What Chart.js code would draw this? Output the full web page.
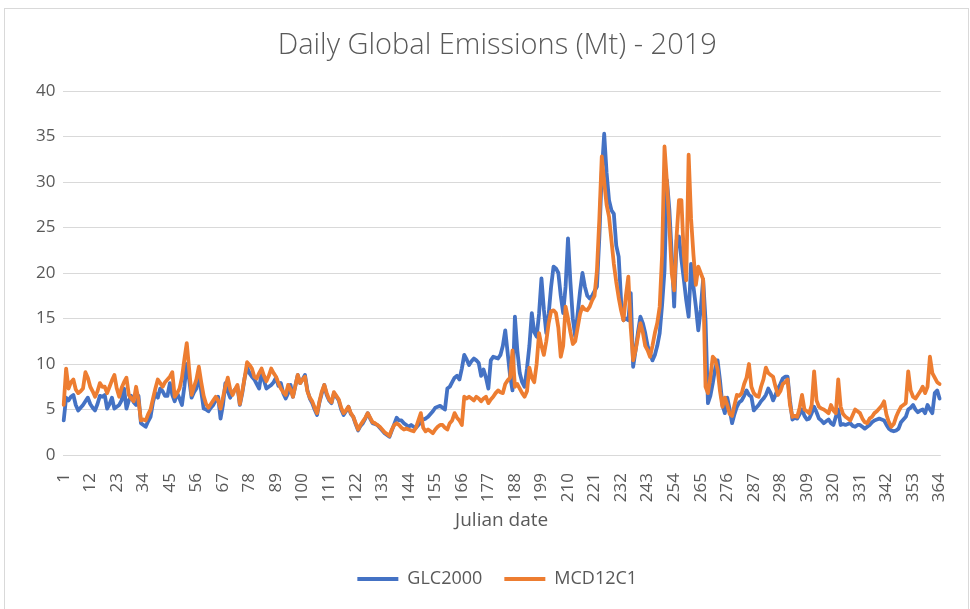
<!DOCTYPE html>
<html>
<head>
<meta charset="utf-8">
<title>Daily Global Emissions (Mt) - 2019</title>
<script src="https://cdn.jsdelivr.net/npm/chart.js@4.4.1/dist/chart.umd.min.js"></script>
<style>
  html, body { margin: 0; padding: 0; background: #fff; }
  #wrap { position: relative; width: 970px; height: 609px; overflow: hidden; }
  #frame { position: absolute; left: 4px; top: 8px; width: 963px; height: 620px;
           border: 1px solid #d9d9d9; pointer-events: none; }
</style>
</head>
<body>
<div id="wrap">
  <canvas id="chart" width="970" height="609"></canvas>
  <div id="frame"></div>
</div>
<script>
// julian days 1..364
const days = Array.from({ length: 364 }, (_, i) => i + 1);

// GLC2000 daily emissions (Mt)
const glc2000 = [
  3.8, 6.3, 6.0, 6.4, 6.6, 5.5, 4.9, 5.2, 5.5, 5.9,
  6.3, 5.6, 5.2, 4.9, 5.6, 6.5, 6.4, 6.6, 5.1, 5.6,
  6.3, 5.1, 5.3, 5.5, 6.0, 7.3, 5.1, 6.0, 6.5, 5.8,
  5.5, 6.5, 3.5, 3.3, 3.1, 3.7, 4.2, 5.8, 6.8, 6.3,
  7.3, 7.0, 6.5, 6.5, 7.9, 6.6, 5.9, 6.8, 6.2, 5.5,
  7.5, 10.0, 8.3, 6.3, 6.9, 7.3, 8.9, 7.0, 5.1, 5.0,
  4.8, 5.2, 5.5, 6.0, 6.4, 4.0, 5.5, 7.9, 7.0, 6.3,
  6.9, 7.2, 7.5, 5.5, 6.8, 8.5, 9.6, 9.0, 8.6, 8.3,
  7.8, 7.3, 9.1, 8.2, 7.3, 7.5, 7.7, 8.0, 8.5, 7.6,
  7.9, 6.8, 6.2, 6.8, 7.7, 6.4, 7.6, 8.8, 7.9, 8.3,
  8.8, 7.1, 6.2, 5.7, 5.0, 4.4, 5.8, 6.8, 7.7, 6.6,
  6.0, 5.7, 6.8, 6.4, 6.0, 5.0, 4.4, 4.8, 5.3, 4.5,
  4.2, 3.4, 2.7, 3.2, 3.5, 4.0, 4.6, 4.0, 3.5, 3.4,
  3.3, 3.0, 2.7, 2.4, 2.2, 2.0, 2.7, 3.4, 4.1, 3.8,
  3.8, 3.5, 3.3, 3.1, 3.3, 3.1, 3.0, 3.3, 3.6, 3.9,
  4.0, 4.2, 4.5, 4.8, 5.2, 5.3, 5.4, 5.2, 5.0, 7.3,
  7.5, 8.0, 8.5, 8.7, 8.3, 9.5, 11.0, 10.5, 9.9, 10.3,
  10.6, 10.4, 10.1, 8.7, 9.4, 8.5, 7.3, 10.4, 10.8, 10.7,
  10.6, 11.0, 12.0, 13.7, 11.2, 8.7, 7.1, 15.2, 11.5, 9.0,
  8.0, 7.5, 9.5, 12.0, 15.6, 13.5, 13.0, 15.5, 19.4, 16.0,
  13.4, 15.5, 18.5, 20.7, 20.5, 20.0, 17.5, 15.6, 18.5, 23.8,
  19.0, 15.0, 13.0, 15.5, 18.0, 20.0, 18.5, 17.5, 17.2, 17.5,
  18.0, 18.5, 24.0, 31.0, 35.3, 31.0, 28.0, 26.9, 26.5, 23.0,
  21.8, 17.0, 14.8, 15.0, 14.8, 17.8, 9.7, 11.5, 13.5, 15.2,
  14.5, 13.4, 12.0, 11.2, 10.4, 11.0, 12.0, 13.4, 16.5, 20.3,
  30.2, 27.0, 22.0, 16.3, 23.6, 24.0, 21.5, 19.3, 17.0, 15.2,
  21.0, 18.5, 16.3, 13.7, 16.0, 19.3, 14.8, 5.7, 6.5, 7.9,
  9.5, 10.4, 8.2, 5.5, 4.6, 6.3, 5.0, 3.5, 4.5, 5.3,
  5.8, 6.0, 6.5, 7.1, 6.6, 6.4, 4.9, 5.2, 5.5, 5.9,
  6.2, 6.6, 7.3, 6.8, 6.0, 6.6, 7.3, 7.8, 8.4, 8.6,
  8.6, 6.0, 3.9, 4.1, 4.0, 4.5, 5.0, 4.3, 3.9, 4.0,
  4.6, 5.3, 4.7, 4.0, 3.8, 3.5, 3.7, 3.9, 3.5, 3.3,
  4.2, 5.0, 3.3, 3.4, 3.3, 3.4, 3.5, 3.2, 3.1, 3.3,
  3.3, 3.1, 2.9, 3.1, 3.3, 3.6, 3.8, 3.9, 4.0, 3.9,
  3.8, 3.3, 2.9, 2.7, 2.6, 2.7, 2.9, 3.6, 3.9, 4.2,
  5.0, 5.2, 5.5, 5.0, 4.7, 4.9, 5.0, 4.6, 5.5, 5.0,
  4.6, 6.8, 7.1, 6.2
];

// MCD12C1 daily emissions (Mt)
const mcd12c1 = [
  5.5, 9.5, 7.3, 8.0, 8.3, 7.2, 6.8, 7.0, 7.3, 9.1,
  8.5, 7.5, 7.0, 6.4, 7.0, 7.9, 7.5, 7.5, 6.8, 7.5,
  8.2, 8.8, 7.3, 6.4, 7.4, 8.0, 8.5, 6.6, 6.2, 5.9,
  7.5, 6.0, 3.8, 3.9, 3.8, 4.5, 5.0, 6.2, 7.3, 8.3,
  7.9, 7.5, 8.0, 8.3, 8.6, 9.1, 6.4, 6.8, 7.3, 8.5,
  10.5, 12.3, 9.4, 6.6, 7.5, 8.3, 9.7, 8.0, 6.5, 5.6,
  5.2, 5.6, 6.0, 6.4, 6.0, 5.1, 6.3, 7.5, 8.5, 7.2,
  6.6, 7.2, 7.7, 5.6, 7.0, 8.5, 10.2, 9.9, 9.5, 8.6,
  8.4, 9.0, 9.5, 8.7, 8.1, 8.7, 9.5, 9.0, 8.6, 7.9,
  7.3, 6.9, 6.6, 7.7, 7.2, 6.4, 7.6, 8.8, 7.9, 8.3,
  8.6, 7.0, 6.3, 5.9, 5.2, 4.6, 5.9, 7.0, 7.7, 6.8,
  6.1, 5.8, 6.9, 6.5, 6.1, 5.2, 4.6, 4.9, 5.3, 4.6,
  4.2, 3.5, 2.8, 3.3, 3.7, 4.1, 4.6, 4.1, 3.6, 3.5,
  3.3, 3.1, 2.8, 2.5, 2.3, 2.1, 2.8, 3.3, 3.5, 3.3,
  3.0, 2.8, 2.9, 2.8, 2.7, 2.6, 3.0, 3.8, 4.6, 3.0,
  2.6, 2.8, 2.6, 2.4, 2.8, 3.1, 3.3, 3.3, 3.0, 2.8,
  3.5, 3.8, 4.6, 4.1, 3.8, 3.3, 6.4, 6.2, 6.4, 6.2,
  6.0, 6.4, 6.2, 5.9, 6.2, 6.4, 5.7, 6.1, 6.4, 6.8,
  7.1, 6.9, 6.8, 7.8, 8.2, 8.5, 11.5, 7.5, 7.8, 7.3,
  6.8, 6.4, 7.0, 9.6, 8.5, 8.0, 10.0, 13.4, 12.0, 11.0,
  12.5, 14.5, 15.8, 15.9, 15.6, 14.0, 10.8, 12.0, 16.3, 15.0,
  13.5, 12.2, 12.5, 14.0, 15.5, 16.3, 16.0, 15.9, 16.3, 17.0,
  17.5, 20.3, 26.0, 32.8, 30.0, 27.5, 26.2, 23.6, 21.0, 19.0,
  17.3, 15.9, 14.8, 17.5, 19.6, 14.0, 10.4, 11.5, 13.0, 14.5,
  13.5, 12.0, 11.5, 10.8, 12.0, 13.4, 14.5, 16.3, 22.0, 33.9,
  30.0, 25.2, 20.0, 18.1, 24.0, 28.0, 28.0, 22.0, 19.2, 33.0,
  26.0, 22.0, 18.7, 20.7, 20.0, 19.3, 7.5, 6.8, 8.5, 10.8,
  10.5, 9.4, 7.0, 5.3, 6.3, 5.5, 4.5, 4.3, 5.5, 6.6,
  6.5, 6.8, 7.8, 8.5, 10.0, 7.5, 6.8, 6.5, 6.4, 7.5,
  8.3, 9.6, 9.0, 8.8, 8.6, 7.5, 6.6, 7.0, 7.8, 8.0,
  8.3, 5.5, 4.2, 4.3, 4.2, 5.2, 6.6, 5.0, 4.8, 4.6,
  5.5, 9.2, 6.0, 5.3, 5.1, 5.0, 4.8, 4.6, 5.5, 4.9,
  4.6, 8.3, 5.3, 4.5, 4.2, 4.0, 3.8, 4.4, 5.0, 4.8,
  4.6, 4.0, 3.6, 3.5, 4.0, 4.2, 4.6, 4.8, 5.1, 5.4,
  5.9, 4.4, 3.6, 3.1, 3.4, 4.2, 4.8, 5.3, 5.5, 5.7,
  9.2, 7.1, 6.4, 6.2, 6.6, 7.0, 7.5, 6.8, 7.5, 10.8,
  9.0, 8.5, 8.0, 7.8
];

// y axis ticks
const yTicks = [0, 5, 10, 15, 20, 25, 30, 35, 40];

const textColor = '#595959';
const gridColor = '#d9d9d9';
const fontFamily = "'Open Sans', 'Liberation Sans', sans-serif";

const ctx = document.getElementById('chart').getContext('2d');

new Chart(ctx, {
  type: 'line',
  data: {
    labels: days,
    datasets: [
      {
        label: 'GLC2000',
        data: glc2000,
        borderColor: '#4472c4',
        backgroundColor: '#4472c4',
        borderWidth: 3.8,
        order: 1, // drawn underneath
      },
      {
        label: 'MCD12C1',
        data: mcd12c1,
        borderColor: '#ed7d31',
        backgroundColor: '#ed7d31',
        borderWidth: 3.8,
        order: 0, // drawn on top, like the original
      },
    ],
  },
  options: {
    responsive: false,
    animation: false,
    devicePixelRatio: 1,
    layout: { padding: { left: 36, right: 11.5, top: 0, bottom: 11 } },
    elements: {
      point: { radius: 0, hoverRadius: 0 },
      line: { tension: 0, borderJoinStyle: 'round', borderCapStyle: 'round' },
    },
    plugins: {
      tooltip: { enabled: false },
      title: {
        display: true,
        text: 'Daily Global Emissions (Mt) - 2019',
        color: textColor,
        font: { family: fontFamily, size: 29, weight: '300', lineHeight: 1.2 },
        padding: { top: 28.6, bottom: 27.6 },
      },
      legend: {
        position: 'bottom',
        labels: {
          color: textColor,
          font: { family: fontFamily, size: 18 },
          boxWidth: 41,
          boxHeight: 4,
          padding: 22,
          sort: (a, b) => a.datasetIndex - b.datasetIndex,
          generateLabels: (chart) =>
            Chart.defaults.plugins.legend.labels.generateLabels(chart)
              .map((item) => ({ ...item, lineWidth: 0 })),
        },
      },
    },
    scales: {
      x: {
        offset: true,
        grid: { display: false },
        border: { display: false },
        ticks: {
          autoSkip: false,
          minRotation: 90,
          maxRotation: 90,
          padding: 10,
          color: textColor,
          font: { family: fontFamily, size: 17 },
          callback: (value, index) => (index % 11 === 0 ? days[index] : ''),
        },
        title: {
          display: true,
          text: 'Julian date',
          color: textColor,
          font: { family: fontFamily, size: 19 },
          padding: { top: 0, bottom: 16 },
        },
        afterFit: (scale) => { scale.height = 93; },
      },
      y: {
        min: 0,
        max: 40,
        grid: { color: gridColor, lineWidth: 1, drawTicks: false },
        border: { display: false },
        afterBuildTicks: (scale) => { scale.ticks = yTicks.map((v) => ({ value: v })); },
        ticks: {
          padding: 7,
          color: textColor,
          font: { family: fontFamily, size: 17 },
        },
        afterFit: (scale) => { scale.width = 26.5; },
      },
    },
  },
});
</script>
</body>
</html>
